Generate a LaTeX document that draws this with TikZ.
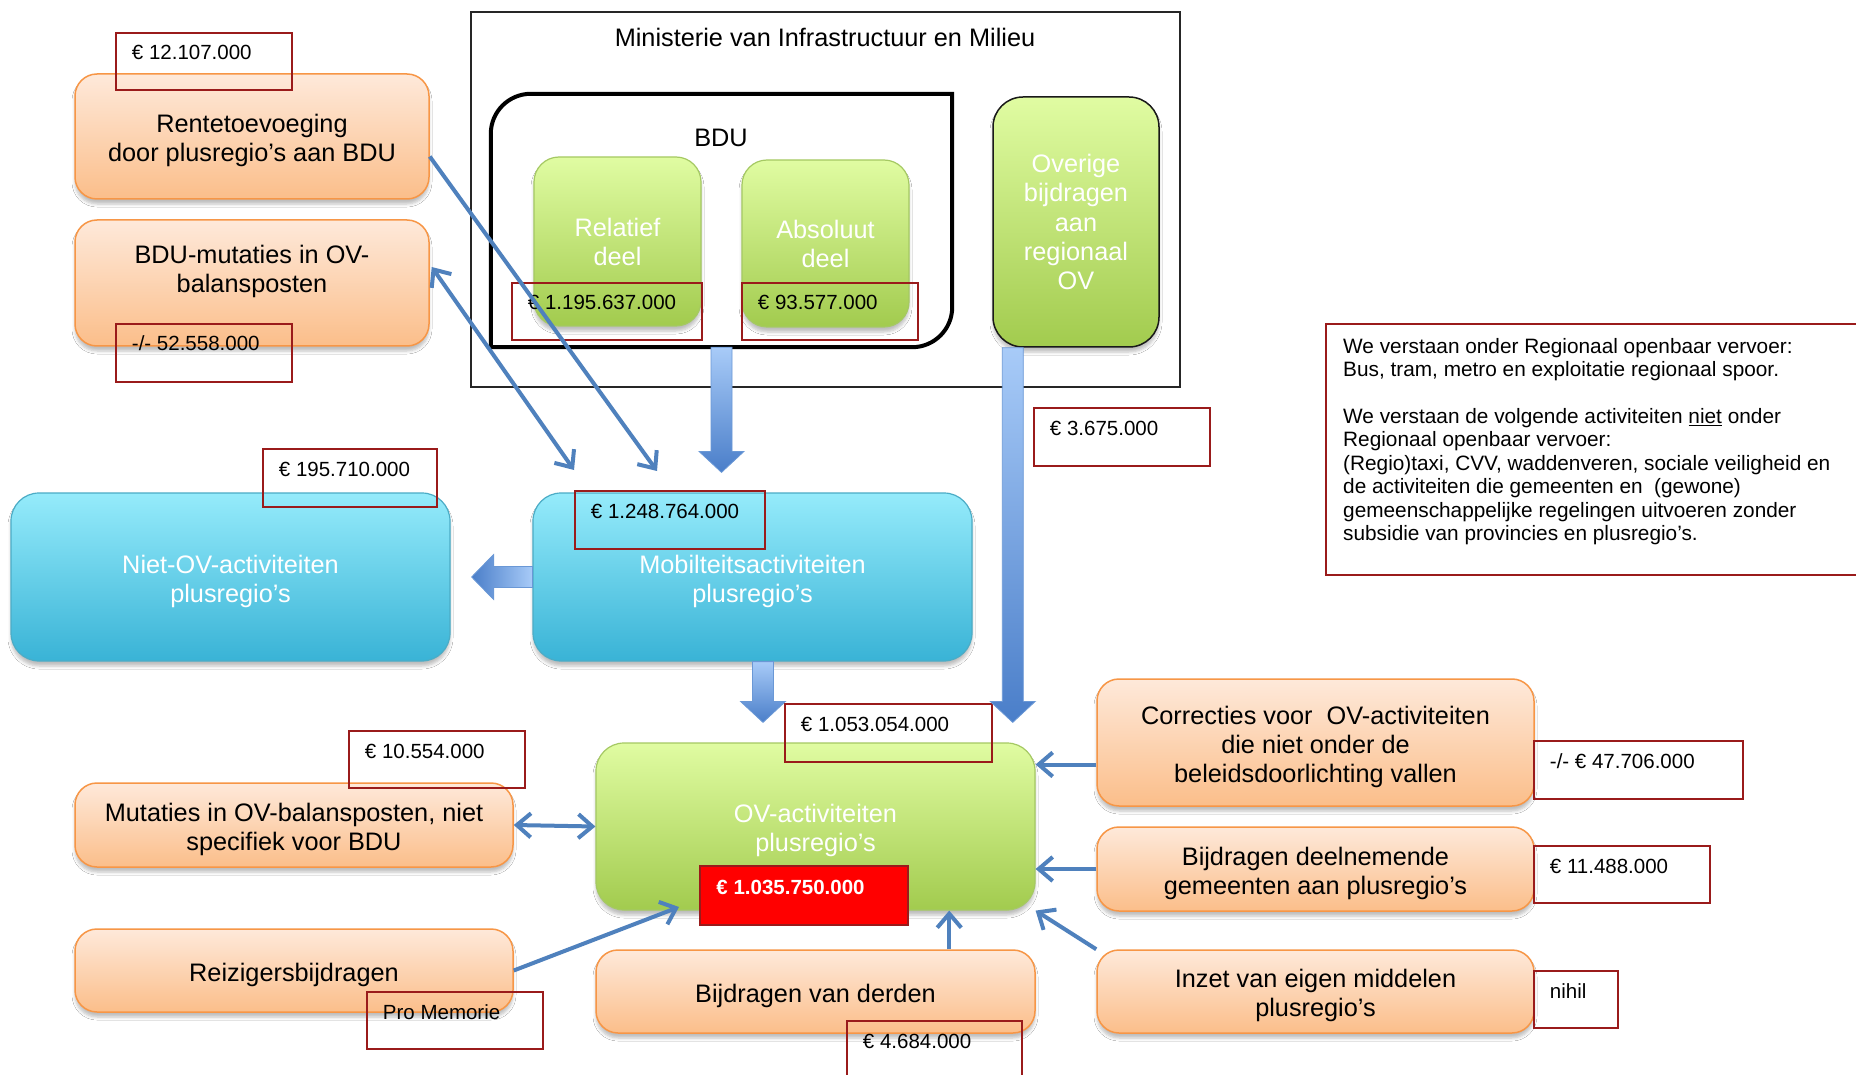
\documentclass[tikz,border=0pt]{standalone}
\usepackage{fontspec}
\setmainfont{Liberation Sans}
\usetikzlibrary{calc,arrows.meta,shadows.blur}
\definecolor{orbord}{HTML}{F79646}
\definecolor{ortop}{HTML}{FEE9DA}
\definecolor{orbot}{HTML}{FBBE8A}
\definecolor{grtop}{HTML}{E0FCA2}
\definecolor{grbot}{HTML}{A2CB4E}
\definecolor{grbord}{HTML}{A5C963}
\definecolor{bltop}{HTML}{95EBFB}
\definecolor{blbot}{HTML}{39B3D6}
\definecolor{blbord}{HTML}{4BACC6}
\definecolor{valred}{HTML}{9A1B1B}
\definecolor{linkblue}{HTML}{4F81BD}
\definecolor{fattop}{HTML}{A8CBF8}
\definecolor{fatbot}{HTML}{4A7EC9}
\definecolor{fatbord}{HTML}{6A98D6}
\newcommand\bodyf{\fontsize{25.3}{29}\selectfont}
\newcommand\valf{\fontsize{20.5}{24}\selectfont}
\newcommand\notef{\fontsize{20.8}{23.4}\selectfont}
\newcommand\lowerstrut{}
\tikzset{
  shadowed/.style={blur shadow={shadow xshift=0pt,shadow yshift=-5pt,shadow blur radius=3pt,shadow blur steps=5,shadow opacity=25}},
  boxbase/.style={inner sep=0pt, align=center, font=\bodyf},
  lowered/.style={/utils/exec={\def\lowerstrut{\rule{0pt}{26.5pt}}}},
  orangebox/.style={boxbase, shadowed, lowered, draw=orbord, line width=1.5pt, rounded corners=22pt, top color=ortop, bottom color=orbot, text=black},
  greenbox/.style={boxbase, shadowed, draw=grbord, line width=1.2pt, rounded corners=25pt, top color=grtop, bottom color=grbot, text=white},
  bluebox/.style={boxbase, shadowed, lowered, draw=blbord, line width=1.2pt, rounded corners=28pt, top color=bltop, bottom color=blbot, text=white},
  valframe/.style={draw=valred, line width=1.5pt, inner sep=0pt},
  valtext/.style={anchor=west, inner sep=0pt, font=\valf, text height=14.5pt, text depth=0pt},
  link/.style={draw=linkblue, line width=4pt, arrows={-Straight Barb[length=14pt,width=24pt]}},
  dlink/.style={draw=linkblue, line width=4pt, arrows={Straight Barb[length=14pt,width=24pt]-Straight Barb[length=14pt,width=24pt]}},
  fatv/.style={top color=fattop, bottom color=fatbot, draw=fatbord, line width=0.8pt},
  fath/.style={left color=fatbot, right color=fattop, draw=fatbord, line width=0.8pt},
}
% style, name, x1, y1, x2, y2, text
\newcommand\mkbox[7]{%
  \node[#1, minimum width={(#5-#3)*1pt}, minimum height={(#6-#4)*1pt}] (#2) at ({(#3+#5)/2},{(#4+#6)/2}) {\lowerstrut#7};}
% name, x1, y1, x2, y2, text
\newcommand\mkval[6]{%
  \node[valframe, minimum width={(#4-#2)*1pt}, minimum height={(#5-#3)*1pt}] (#1) at ({(#2+#4)/2},{(#3+#5)/2}) {};
  \node[valtext] (#1t) at ($(#1.north west)+(16.5,20.5)$) {#6};}
\newcommand\fatdown[2]{%
  \path[fatv] let \p1=#1, \p2=#2 in
    (\x1-10.5pt,\y1) -- (\x1-10.5pt,\y2+21pt) -- (\x1-22.5pt,\y2+21pt) -- (\x1,\y2)
    -- (\x1+22.5pt,\y2+21pt) -- (\x1+10.5pt,\y2+21pt) -- (\x1+10.5pt,\y1) -- cycle;}
\newcommand\fatleft[2]{%
  \path[fath] let \p1=#1, \p2=#2 in
    (\x1,\y1+10.5pt) -- (\x2+22pt,\y1+10.5pt) -- (\x2+22pt,\y1+22.5pt) -- (\x2,\y1)
    -- (\x2+22pt,\y1-22.5pt) -- (\x2+22pt,\y1-10.5pt) -- (\x1,\y1-10.5pt) -- cycle;}
\begin{document}
\begin{tikzpicture}[x=1pt,y=-1pt]
\useasboundingbox (0,0) rectangle (1856,1075);
\fill[white] (0,0) rectangle (1856,1075);

% Ministerie frame
\node[draw=black!85, line width=1.5pt, minimum width=709pt, minimum height=375pt, inner sep=0pt] (mini) at (825.5,199.5) {};
\node[font=\bodyf, inner sep=0pt] (minititle) at (825,37) {Ministerie van Infrastructuur en Milieu};

% BDU frame
\node[minimum width=461pt, minimum height=253pt, inner sep=0pt] (bdu) at (721.5,220.5) {};
\draw[line width=4pt, black] (bdu.south west) -- ($(bdu.north west)+(0,40)$)
  arc[start angle=180, end angle=90, radius=40pt] -- (bdu.north east)
  -- ($(bdu.south east)+(0,-40)$) arc[start angle=0, end angle=-90, radius=40pt] -- cycle;
\node[font=\bodyf, inner sep=0pt] (bdulabel) at (721,138) {BDU};

% green boxes
\mkbox{greenbox}{rel}{534}{157}{701}{326}{Relatief\\deel}
\mkbox{greenbox}{abs}{742}{160}{909}{327}{Absoluut\\deel}
\mkbox{greenbox, draw=black!90, line width=1.5pt, rounded corners=30pt, font=\fontsize{25.3}{29.3}\selectfont}{over}{993}{97}{1159}{347}{Overige\\bijdragen\\aan\\regionaal\\OV}
\mkbox{greenbox, lowered, rounded corners=28pt}{ov}{596}{743}{1035}{910}{OV-activiteiten\\plusregio’s}

% blue boxes
\mkbox{bluebox}{niet}{11}{493}{450}{661}{Niet-OV-activiteiten\\plusregio’s}
\mkbox{bluebox}{mob}{533}{493}{972}{661}{Mobilteitsactiviteiten\\plusregio’s}

% orange boxes
\mkbox{orangebox}{rente}{75}{74}{429}{199}{Rentetoevoeging\\door plusregio’s aan BDU}
\mkbox{orangebox}{bdumut}{75}{220}{429}{346}{}
\node[font=\bodyf, align=center, inner sep=0pt] (bdumuttext) at (252,271) {BDU-mutaties in OV-\\balansposten};
\mkbox{orangebox}{mutaties}{75}{783}{513}{867}{Mutaties in OV-balansposten, niet\\specifiek voor BDU}
\mkbox{orangebox}{reiz}{75}{929}{513}{1012}{Reizigersbijdragen}
\mkbox{orangebox}{derden}{596}{950}{1035}{1033}{Bijdragen van derden}
\mkbox{orangebox}{corr}{1097}{679}{1534}{806}{Correcties voor~~OV-activiteiten\\die niet onder de\\beleidsdoorlichting vallen}
\mkbox{orangebox}{deel}{1097}{827}{1534}{911}{Bijdragen deelnemende\\gemeenten aan plusregio’s}
\mkbox{orangebox}{inzet}{1097}{950}{1534}{1033}{Inzet van eigen middelen\\plusregio’s}

% value boxes
\mkval{v1}{116}{33}{292}{90}{€ 12.107.000}
\mkval{v2}{116}{324}{292}{382}{-/- 52.558.000}
\mkval{v3}{512}{283}{702}{340}{€ 1.195.637.000}
\mkval{v4}{742}{283}{918}{340}{€ 93.577.000}
\mkval{v5}{1034}{408}{1210}{466}{€ 3.675.000}
\mkval{v6}{263}{449}{437}{507}{€ 195.710.000}
\mkval{v7}{575}{491}{765}{549}{€ 1.248.764.000}
\mkval{v8}{785}{704}{992}{762}{€ 1.053.054.000}
\mkval{v9}{349}{731}{525}{788}{€ 10.554.000}
\mkval{v10}{367}{992}{543}{1049}{Pro Memorie}
\mkval{v11}{847}{1021}{1022}{1085}{€ 4.684.000}
\mkval{v12}{1534}{741}{1743}{799}{-/- € 47.706.000}
\mkval{v13}{1534}{846}{1710}{903}{€ 11.488.000}
\mkval{v14}{1534}{971}{1618}{1028}{nihil}

% total red box
\node[draw=valred, line width=1.5pt, fill=red, minimum width=208pt, minimum height=59pt, inner sep=0pt] (total) at (804,895.5) {};
\node[anchor=west, inner sep=0pt, font=\valf\bfseries, text=white, text height=14.5pt, text depth=0pt] (totalt) at ($(total.north west)+(17,22)$) {€ 1.035.750.000};

% note
\node[draw=valred, line width=1.5pt, minimum width=536pt, minimum height=251pt, inner sep=0pt] (note) at (1594,449.5) {};
\node[anchor=north west, align=left, font=\notef, inner sep=0pt] (notetext) at (1343,338) {We verstaan onder Regionaal openbaar vervoer:\\Bus, tram, metro en exploitatie regionaal spoor.\\[23.4pt]We verstaan de volgende activiteiten \underline{niet} onder\\Regionaal openbaar vervoer:\\(Regio)taxi, CVV, waddenveren, sociale veiligheid en\\de activiteiten die gemeenten en~~(gewone)\\gemeenschappelijke regelingen uitvoeren zonder\\subsidie van provincies en plusregio’s.};

% fat arrows
\fatdown{(bdu.south)}{($(bdu.south |- mob.north)+(0,-20)$)}
\fatdown{($(over.south west)+(20.5,0)$)}{($(over.south west |- ov.north)+(20.5,-20)$)}
\fatdown{($(mob.south)+(10.5,0)$)}{($(mob.south |- ov.north)+(10.5,-20)$)}
\fatleft{(mob.west)}{($(niet.east)+(21,0)$)}

% thin connectors
\coordinate (a1s) at ($(rente.east)+(0,20)$);
\coordinate (a1e) at (657,471);
\coordinate (a2s) at ($(bdumut.east)+(2,-16)$);
\coordinate (a2e) at (574,470);
\coordinate (a4e) at (679,907);
\coordinate (a5s) at ($(derden.north west)+(354,0)$);
\coordinate (a6s) at ($(corr.west)+(0,22)$);
\draw[link] (a1s) -- (a1e);
\draw[dlink] (a2e) -- (a2s);
\draw[dlink] (mutaties.east) -- (ov.west);
\draw[link] (reiz.east) -- (a4e);
\draw[link] (a5s) -- (a5s |- ov.south);
\draw[link] (a6s) -- (a6s -| ov.east);
\draw[link] (deel.west) -- (deel.west -| ov.east);
\draw[link] (inzet.north west) -- (ov.south east);
\end{tikzpicture}
\end{document}
